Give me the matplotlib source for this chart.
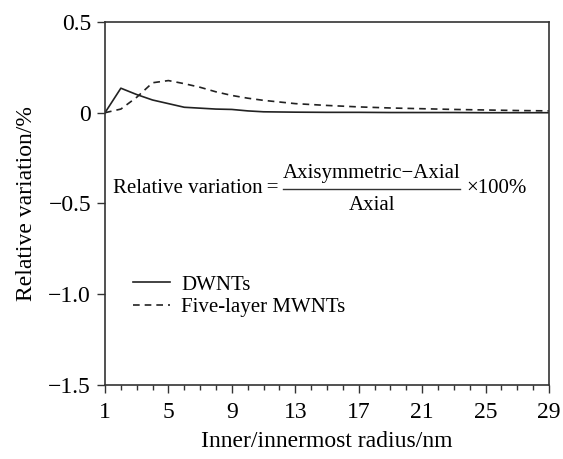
import matplotlib.pyplot as plt
from matplotlib.ticker import FixedLocator, MultipleLocator, FixedFormatter

plt.rcParams['font.family'] = ['Liberation Serif', 'DejaVu Serif']

# inner / innermost radius (nm)
radius = [1, 2, 3, 4, 5, 6, 7, 8, 9, 10, 11, 13, 15, 17, 19, 21, 23, 25, 27, 29]
# relative variation (%)
dwnt = [0, 0.135, 0.10, 0.07, 0.05, 0.03, 0.025, 0.02, 0.018, 0.01, 0.005,
        0.003, 0.002, 0.002, 0.001, 0.001, 0.001, 0.0, 0.0, 0.0]
mwnt = [0, 0.02, 0.085, 0.165, 0.177, 0.16, 0.14, 0.115, 0.095, 0.08, 0.068,
        0.05, 0.04, 0.032, 0.026, 0.022, 0.018, 0.015, 0.012, 0.01]

yticks = [0.5, 0, -0.5, -1.0, -1.5]
ytick_labels = ['0.5', '0', '\u22120.5', '\u22121.0', '\u22121.5']
xticks = [1, 5, 9, 13, 17, 21, 25, 29]

fig = plt.figure(figsize=(5.63, 4.59), dpi=100)
ax = fig.add_axes([0.1865, 0.1612, 0.7885, 0.791])

ax.plot(radius, dwnt, color='#222222', lw=1.2, label='DWNTs')
ax.plot(radius, mwnt, color='#222222', lw=1.2, linestyle=(0, (4, 3)),
        label='Five-layer MWNTs')

ax.set_xlim(1, 29)
ax.set_ylim(-1.5, 0.5)
ax.xaxis.set_major_locator(FixedLocator(xticks))
ax.xaxis.set_minor_locator(MultipleLocator(1))
ax.yaxis.set_major_locator(FixedLocator(yticks))
ax.yaxis.set_major_formatter(FixedFormatter(ytick_labels))
ax.tick_params(axis='both', which='major', labelsize=17, direction='out',
               length=6, width=1, color='#333333', pad=4)
ax.tick_params(axis='x', which='major', pad=6)
ax.tick_params(axis='x', which='minor', direction='out', length=3.5, width=1,
               color='#333333')
for s in ax.spines.values():
    s.set_linewidth(1.2)
    s.set_color('#333333')

ax.set_xlabel('Inner/innermost radius/nm', fontsize=17, labelpad=6)
ax.set_ylabel('Relative variation/%', fontsize=17, labelpad=8)

# formula annotation
ax.text(1.5, -0.415, 'Relative variation\u2009=', fontsize=15, va='center', ha='left')
ax.text(17.85, -0.335, 'Axisymmetric\u2212Axial', fontsize=15,
        va='center', ha='center')
ax.text(17.85, -0.51, 'Axial', fontsize=15, va='center', ha='center')
ax.plot([12.2, 23.4], [-0.418, -0.418], color='#333333', lw=1)
ax.text(23.8, -0.42, '\u00d7100%', fontsize=15, va='center', ha='left')

ax.legend(loc='upper left', bbox_to_anchor=(0.045, 0.326), frameon=False,
          fontsize=15, handlelength=1.75, labelspacing=0.15, handletextpad=0.55,
          borderaxespad=0)

fig.savefig('out.png', dpi=100)
